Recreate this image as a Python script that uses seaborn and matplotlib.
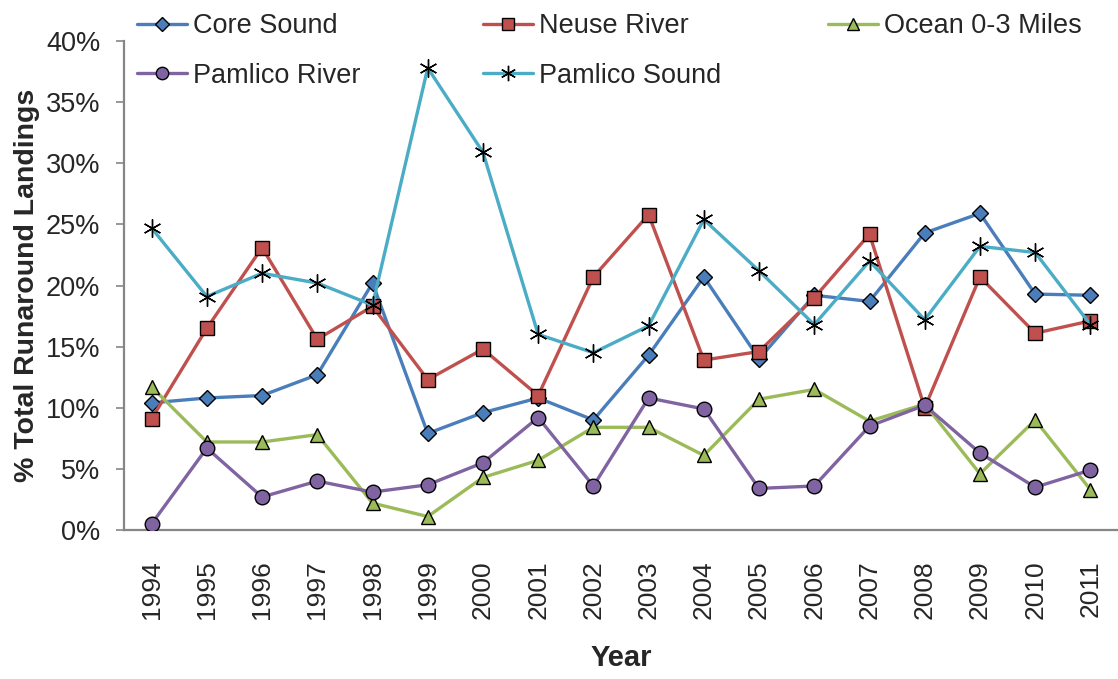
import numpy as np
import pandas as pd
import matplotlib
matplotlib.use("Agg")
import matplotlib.pyplot as plt
import seaborn as sns
from matplotlib.ticker import FuncFormatter, FixedLocator
from matplotlib.lines import Line2D

years = [1994, 1995, 1996, 1997, 1998, 1999, 2000, 2001, 2002,
         2003, 2004, 2005, 2006, 2007, 2008, 2009, 2010, 2011]

core_sound = [10.4, 10.8, 11.0, 12.7, 20.2, 7.9, 9.6, 10.8, 9.0,
              14.3, 20.7, 14.0, 19.2, 18.7, 24.3, 25.9, 19.3, 19.2]
neuse_river = [9.1, 16.5, 23.1, 15.6, 18.3, 12.3, 14.8, 11.0, 20.7,
               25.8, 13.9, 14.6, 19.0, 24.2, 10.0, 20.7, 16.1, 17.1]
ocean_0_3 = [11.7, 7.2, 7.2, 7.8, 2.2, 1.1, 4.3, 5.7, 8.4,
             8.4, 6.1, 10.7, 11.5, 8.9, 10.3, 4.6, 9.0, 3.3]
pamlico_river = [0.5, 6.7, 2.7, 4.0, 3.1, 3.7, 5.5, 9.2, 3.6,
                 10.8, 9.9, 3.4, 3.6, 8.5, 10.2, 6.3, 3.5, 4.9]
pamlico_sound = [24.7, 19.1, 21.0, 20.2, 18.4, 37.8, 30.9, 16.0, 14.5,
                 16.7, 25.4, 21.2, 16.8, 22.0, 17.2, 23.2, 22.7, 16.8]

series_names = ["Core Sound", "Neuse River", "Ocean 0-3 Miles", "Pamlico River", "Pamlico Sound"]
series_values = [core_sound, neuse_river, ocean_0_3, pamlico_river, pamlico_sound]
y_ticks = [0, 5, 10, 15, 20, 25, 30, 35, 40]

colors = ["#4a7ebb", "#c0504d", "#9bbb59", "#8064a2", "#4bacc6"]
markers = ["D", "s", "^", "o", (6, 2, 0)]
msizes = [8, 10.5, 10, 10.5, 13]
mfaces = ["#4a7ebb", "#c0504d", "#9bbb59", "#8064a2", "black"]

sns.set_style("white")
plt.rcParams["font.family"] = ["Liberation Sans", "DejaVu Sans"]

fig = plt.figure(figsize=(11.18, 6.79), dpi=100)
W, H = 1118, 679
ax = fig.add_axes([124 / W, 1 - 530 / H, (1118 - 124) / W, (530 - 41) / H])

rows = []
for name, vals in zip(series_names, series_values):
    for i, (yr, v) in enumerate(zip(years, vals)):
        rows.append({"Series": name, "pos": i, "Year": yr, "Value": v})
df = pd.DataFrame(rows)

handles = []
for k, name in enumerate(series_names):
    sub = df[df["Series"] == name]
    sns.lineplot(data=sub, x="pos", y="Value", ax=ax, color=colors[k],
                 linewidth=2.4, marker=markers[k], markersize=msizes[k],
                 markerfacecolor=mfaces[k], markeredgecolor="black",
                 markeredgewidth=1.0, zorder=3 + k, legend=False)
    handles.append(Line2D([0], [0], color=colors[k], linewidth=2.4,
                          marker=markers[k], markersize=msizes[k] * 0.85,
                          markerfacecolor=mfaces[k], markeredgecolor="black",
                          markeredgewidth=1.0))

n = len(years)
ax.set_xlim(-0.5, n - 0.5)
ax.set_ylim(0, 40)
ax.set_xticks(np.arange(n))
ax.set_xticklabels([str(y) for y in years], rotation=90, fontsize=19)
ax.xaxis.set_minor_locator(FixedLocator(np.arange(-0.5, n, 1.0)))
ax.tick_params(axis="x", which="major", length=0, pad=22)
ax.tick_params(axis="x", which="minor", length=7, width=1.2, color="#868686", direction="out")
ax.set_yticks(y_ticks)
ax.yaxis.set_major_formatter(FuncFormatter(lambda v, p: f"{int(v)}%"))
ax.tick_params(axis="y", which="major", length=6, width=1.2, color="#868686",
               direction="out", labelsize=19.5, pad=11, left=True)
for s in ["top", "right"]:
    ax.spines[s].set_visible(False)
for s in ["left", "bottom"]:
    ax.spines[s].set_color("#868686")
    ax.spines[s].set_linewidth(1.6)
ax.set_xlabel("Year", fontsize=21, fontweight="bold", labelpad=18)
ax.set_ylabel("% Total Runaround Landings", fontsize=20.5, fontweight="bold", labelpad=4)
ax.grid(False)

# legend laid out in three fixed-width columns, like the original
columns = [([0, 3], 137), ([1, 4], 483), ([2], 828)]
for idx, xpix in columns:
    fig.legend([handles[i] for i in idx], [series_names[i] for i in idx],
               loc="upper left", ncol=1,
               bbox_to_anchor=(xpix / W, 1 - 13 / H), frameon=False, fontsize=19.5,
               handlelength=1.85, handletextpad=0.2,
               labelspacing=0.88, borderpad=0, borderaxespad=0)

fig.savefig("out.png", dpi=100)
